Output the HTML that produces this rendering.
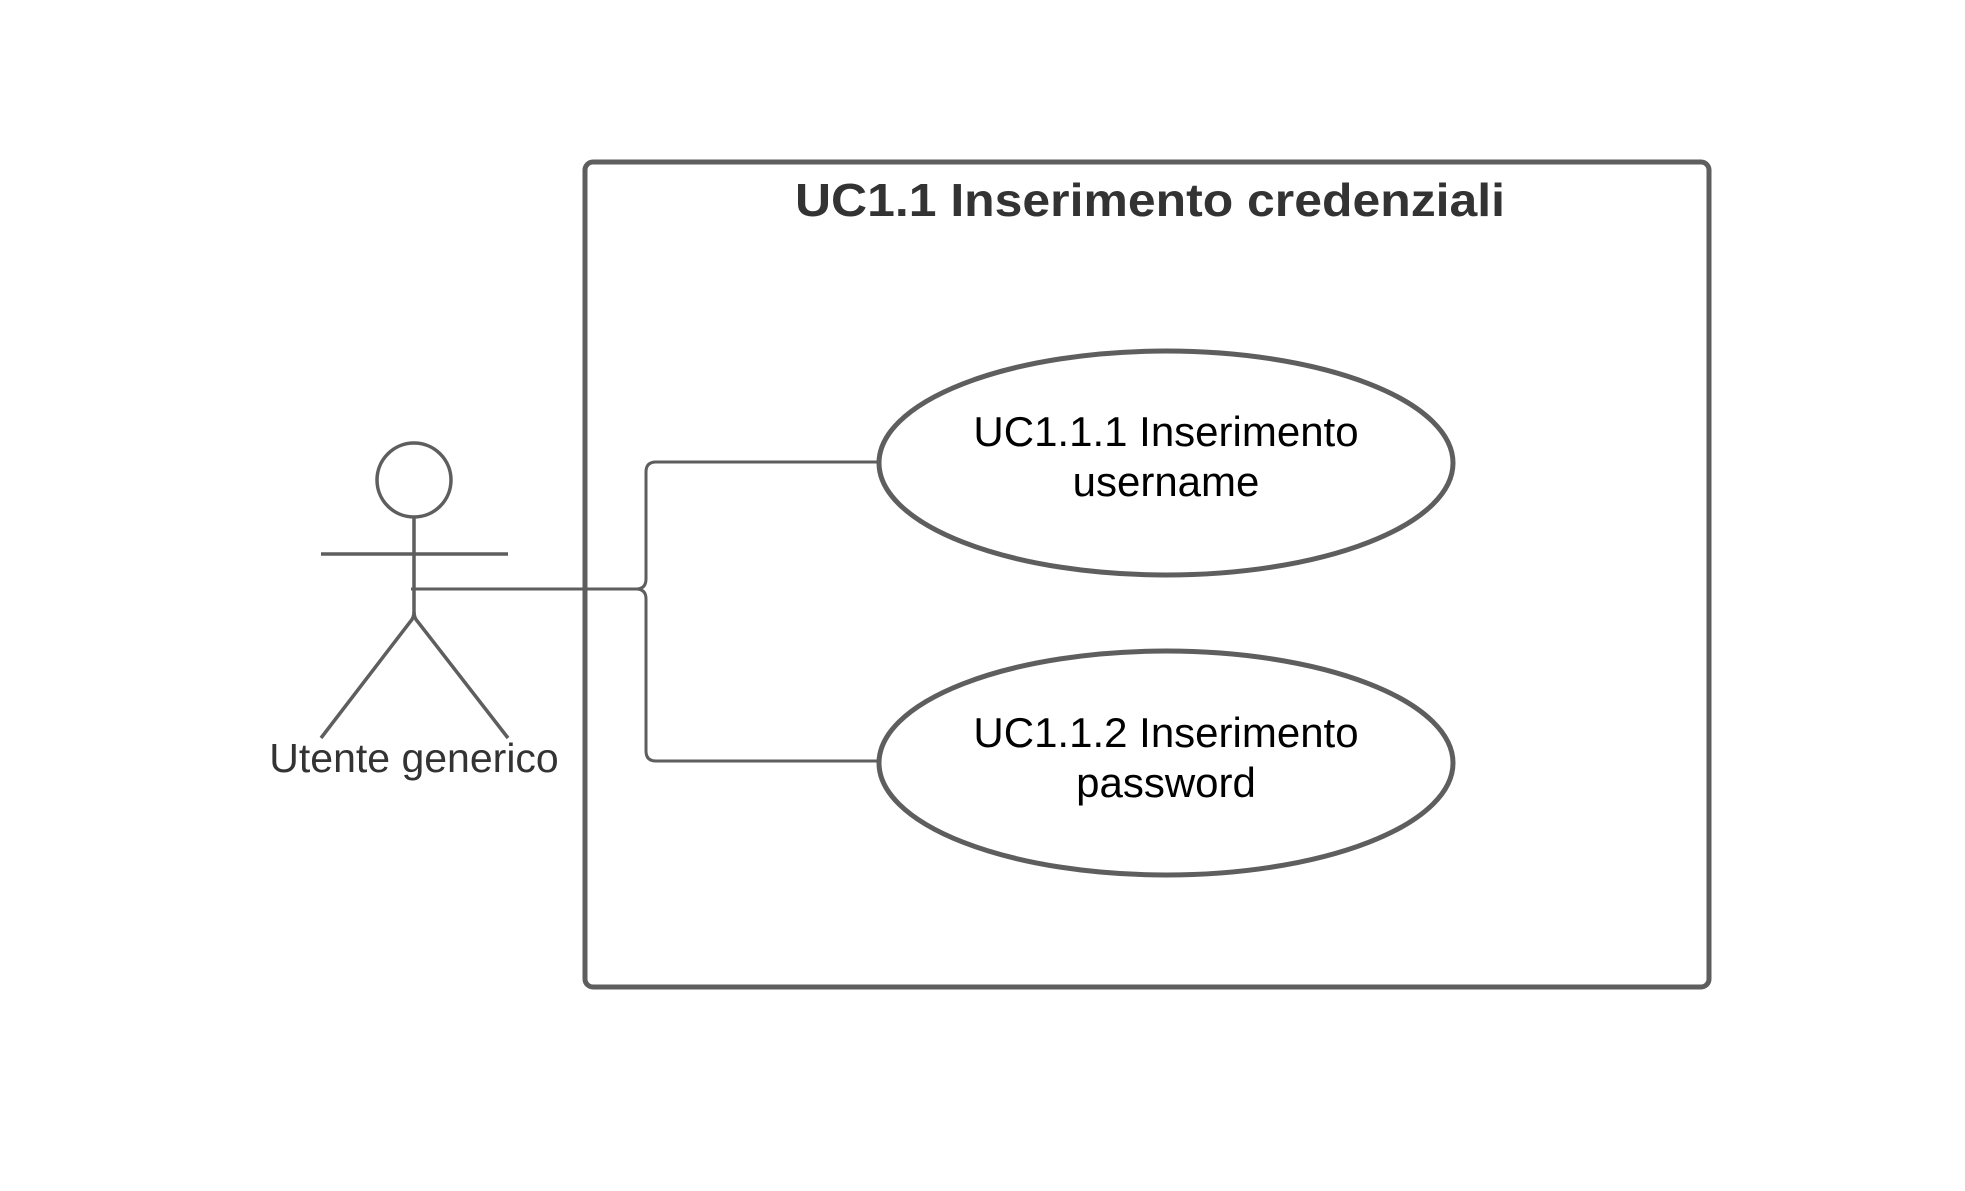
<!DOCTYPE html>
<html><head><meta charset="utf-8"><style>html,body{margin:0;padding:0;background:#fff}svg{display:block}</style></head>
<body>
<svg width="1965" height="1191" viewBox="0 0 1965 1191" xmlns="http://www.w3.org/2000/svg">
<rect x="0" y="0" width="1965" height="1191" fill="#fff"/>
<rect x="585" y="162" width="1124" height="825" rx="8" ry="8" fill="none" stroke="#5e5e5e" stroke-width="5"/>
<text x="1150" y="216" text-anchor="middle" font-family="Liberation Sans, sans-serif" font-weight="bold" font-size="46" fill="#333" textLength="710" lengthAdjust="spacingAndGlyphs">UC1.1 Inserimento credenziali</text>
<g fill="none" stroke="#5e5e5e" stroke-width="3">
<path d="M411 589 H636 Q646 589 646 579 V472 Q646 462 656 462 H880"/>
<path d="M636 589 Q646 589 646 599 V751 Q646 761 656 761 H880"/>
</g>
<g fill="none" stroke="#5e5e5e" stroke-width="3.5">
<circle cx="414" cy="480" r="37"/>
<line x1="414" y1="517" x2="414" y2="612"/>
<line x1="321" y1="554" x2="508" y2="554"/>
<path d="M414 612 Q414 618 410 622 L321 738"/>
<path d="M414 612 Q414 618 418 622 L508 738"/>
</g>
<g fill="#fff" stroke="#5e5e5e" stroke-width="5">
<ellipse cx="1166" cy="463" rx="287" ry="112"/>
<ellipse cx="1166" cy="763" rx="287" ry="112"/>
</g>
<g font-family="Liberation Sans, sans-serif" font-size="42" fill="#000" text-anchor="middle">
<text x="1166" y="446">UC1.1.1 Inserimento</text>
<text x="1166" y="496">username</text>
<text x="1166" y="747">UC1.1.2 Inserimento</text>
<text x="1166" y="797">password</text>
</g>
<text x="414" y="772" text-anchor="middle" font-family="Liberation Sans, sans-serif" font-size="41" fill="#333">Utente generico</text>
</svg>
</body></html>
